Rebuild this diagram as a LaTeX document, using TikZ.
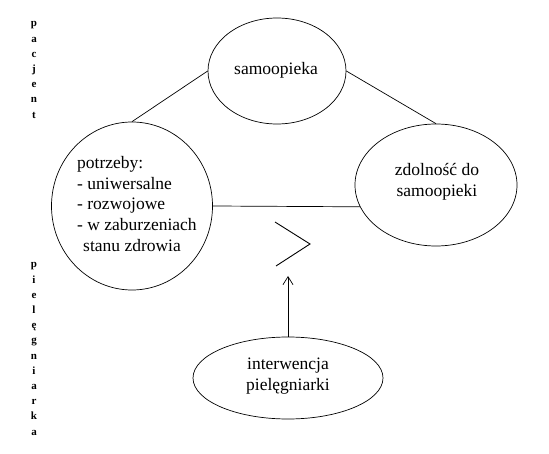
\documentclass[tikz,border=0pt]{standalone}
\usepackage{fontspec}
\IfFontExistsTF{LiberationSerif-Regular.ttf}
  {\setmainfont{LiberationSerif}[Extension=.ttf, UprightFont=*-Regular, BoldFont=*-Bold, ItalicFont=*-Italic, BoldItalicFont=*-BoldItalic]}
  {\setmainfont{Liberation Serif}}
\usetikzlibrary{shapes.geometric,arrows.meta}
\begin{document}
\begin{tikzpicture}[x=1pt,y=-1pt,
  shapebox/.style={draw, ellipse, inner sep=0pt, line width=0.7pt},
  txt/.style={font=\fontsize{17.5}{20.7}\selectfont, inner sep=0pt, align=center},
  side/.style={font=\fontsize{11}{15.2}\selectfont\bfseries, align=center, inner sep=0pt},
  conn/.style={line width=0.7pt}]
\useasboundingbox (0,0) rectangle (549,454);
% shapes
\node[shapebox, minimum width=138pt, minimum height=106pt] (top) at (277,71) {};
\node[shapebox, minimum width=161pt, minimum height=168pt] (left) at (132,206) {};
\node[shapebox, minimum width=162pt, minimum height=122pt] (right) at (436,185) {};
\node[shapebox, minimum width=190pt, minimum height=82pt] (bot) at (288,378) {};
% texts
\node[txt] (ttop) at (276,70) {samoopieka};
\node[txt, anchor=west, align=left] (tleft) at (77,204) {potrzeby:\\- uniwersalne\\- rozwojowe\\- w zaburzeniach\\\hspace*{6pt}stanu zdrowia};
\node[txt] (tright) at (437,182) {zdolność do\\samoopieki};
\node[txt] (tbot) at (288,376) {interwencja\\pielęgniarki};
% side labels
\node[side] (pac) at (34,70) {p\\a\\c\\j\\e\\n\\t};
\node[side] (piel) at (34,349) {p\\i\\e\\l\\ę\\g\\n\\i\\a\\r\\k\\a};
% connectors
\draw[conn] (top.west) -- (left.north);
\draw[conn] (top.east) -- (right.north);
\draw[conn] (left.east) -- (right.196);
% greater-than sign
\coordinate (g1) at (275,222);
\coordinate (g2) at (310,244);
\coordinate (g3) at (276,266);
\draw[line width=0.9pt] (g1) -- (g2) -- (g3);
% arrow
\coordinate (tip) at (288,276);
\draw[conn,-{Straight Barb[length=8pt,width=10pt]}] (bot.north) -- (tip);
\end{tikzpicture}
\end{document}
